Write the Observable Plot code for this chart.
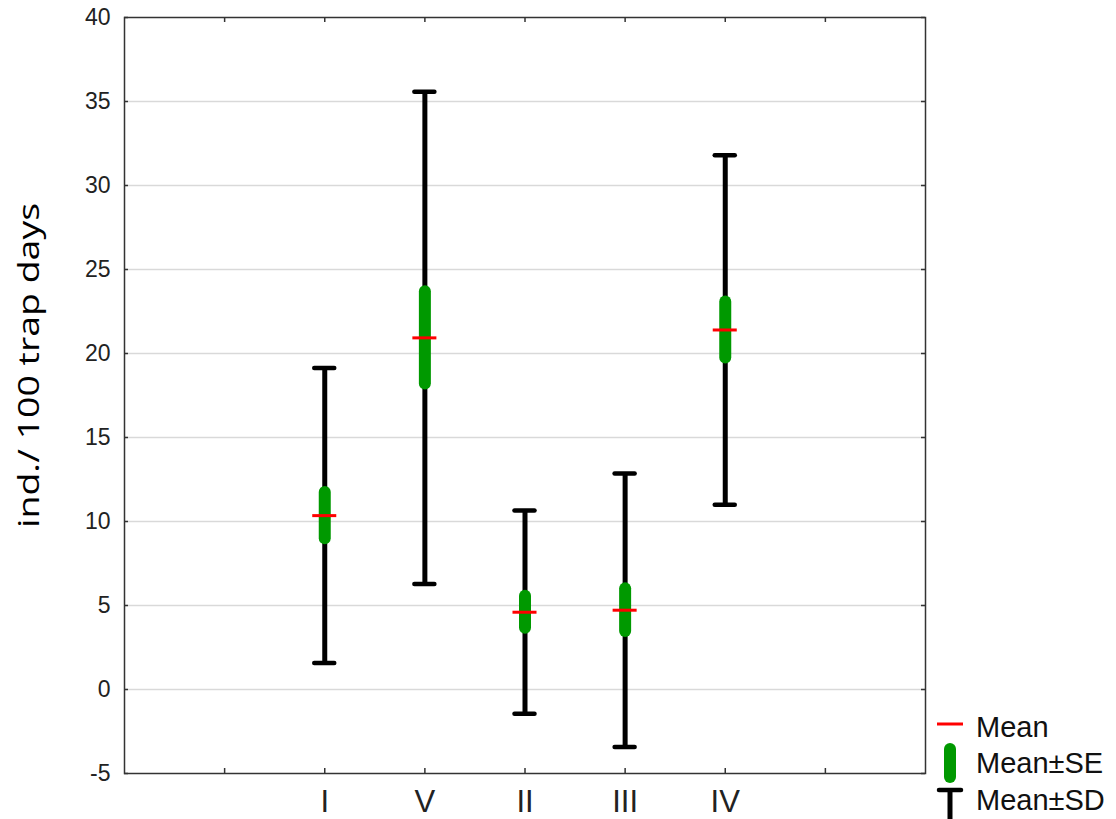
<!DOCTYPE html>
<html><head><meta charset="utf-8">
<script src="https://cdn.jsdelivr.net/npm/d3@7"></script>
<script src="https://cdn.jsdelivr.net/npm/@observablehq/plot@0.6"></script>
<style>
html,body{margin:0;padding:0;background:#fff;}
#wrap{position:relative;width:1116px;height:819px;overflow:hidden;background:#fff;}
#wrap svg{position:absolute;left:0;top:0;}
</style></head><body><div id="wrap"></div>
<script>
// ---- data ----
const groups = ["I", "V", "II", "III", "IV"];
const positions = [2, 3, 4, 5, 6];
const means = [10.35, 20.93, 4.6, 4.72, 21.4];
const se = [1.38, 2.74, 0.95, 1.27, 1.67];
const sd = [8.78, 14.65, 6.05, 8.14, 10.4];
const yTicks = [-5, 0, 5, 10, 15, 20, 25, 30, 35, 40];
const xTickPos = [1, 2, 3, 4, 5, 6, 7];
const xTickLabels = ["", "I", "V", "II", "III", "IV", ""];
const yLabel = "ind./ 100 trap days";
const legendLabels = ["Mean", "Mean±SE", "Mean±SD"];

const data = groups.map((g, i) => ({
  group: g, pos: positions[i], mean: means[i],
  seLo: means[i] - se[i], seHi: means[i] + se[i],
  sdLo: means[i] - sd[i], sdHi: means[i] + sd[i]
}));

const W = 1116, H = 819, mL = 124, mR = 191, mT = 17, mB = 46;
const innerW = W - mL - mR, innerH = H - mT - mB;
const frameCol = "#333";

const chart = Plot.plot({
  width: W, height: H,
  marginLeft: mL, marginRight: mR, marginTop: mT, marginBottom: mB,
  style: {fontFamily: "'Liberation Sans', Arial, sans-serif", background: "#fff", color: "#222"},
  x: {domain: [0, 8]},
  y: {domain: [-5, 40]},
  marks: [
    Plot.gridY(yTicks.filter(v => v > -5 && v < 40), {stroke: "#d9d9d9", strokeOpacity: 1, strokeWidth: 1.5}),
    Plot.ruleX(data, {x: "pos", y1: "sdLo", y2: "sdHi", stroke: "#000", strokeWidth: 5}),
    Plot.ruleY(data, {y: "sdHi", x1: d => d.pos - 0.1, x2: d => d.pos + 0.1, stroke: "#000", strokeWidth: 4.5, strokeLinecap: "round"}),
    Plot.ruleY(data, {y: "sdLo", x1: d => d.pos - 0.1, x2: d => d.pos + 0.1, stroke: "#000", strokeWidth: 4.5, strokeLinecap: "round"}),
    Plot.ruleX(data, {x: "pos", y1: "seLo", y2: "seHi", stroke: "#009900", strokeWidth: 12, strokeLinecap: "round"}),
    Plot.ruleY(data, {y: "mean", x1: d => d.pos - 0.12, x2: d => d.pos + 0.12, stroke: "#ff0000", strokeWidth: 3}),
    Plot.frame({stroke: frameCol, strokeWidth: 1.5}),
    Plot.ruleY(yTicks, {stroke: frameCol, strokeWidth: 1.5, insetRight: innerW - 4}),
    Plot.ruleY(yTicks, {stroke: frameCol, strokeWidth: 1.5, insetLeft: innerW - 4}),
    Plot.ruleX(xTickPos, {stroke: frameCol, strokeWidth: 1.5, insetTop: innerH - 5}),
    Plot.ruleX(xTickPos, {stroke: frameCol, strokeWidth: 1.5, insetBottom: innerH - 5}),
    Plot.axisY(yTicks, {tickSize: 0, tickPadding: 14, fontSize: 23, color: "#222", label: null,
      tickFormat: d => String(d)}),
    Plot.axisX(xTickPos, {tickSize: 0, tickPadding: 16, fontSize: 31, color: "#222", label: null,
      tickFormat: d => xTickLabels[xTickPos.indexOf(d)]})
  ]
});

const wrap = document.getElementById("wrap");
wrap.appendChild(chart);

// overlay: y-axis title and legend
const ov = d3.create("svg").attr("width", W).attr("height", H);
ov.append("text")
  .attr("transform", "translate(39,365.5) rotate(-90)")
  .attr("text-anchor", "middle")
  .attr("font-family", "'Open Sans', 'Noto Sans', sans-serif")
  .attr("font-size", 29)
  .attr("fill", "#000")
  .attr("textLength", 325)
  .attr("lengthAdjust", "spacingAndGlyphs")
  .text(yLabel);

const lg = ov.append("g");
lg.append("line").attr("x1", 937).attr("x2", 963).attr("y1", 724).attr("y2", 724)
  .attr("stroke", "#ff0000").attr("stroke-width", 3);
lg.append("line").attr("x1", 950).attr("x2", 950).attr("y1", 749).attr("y2", 777)
  .attr("stroke", "#009900").attr("stroke-width", 12).attr("stroke-linecap", "round");
lg.append("line").attr("x1", 950).attr("x2", 950).attr("y1", 790).attr("y2", 830)
  .attr("stroke", "#000").attr("stroke-width", 5);
lg.append("line").attr("x1", 939).attr("x2", 961).attr("y1", 790).attr("y2", 790)
  .attr("stroke", "#000").attr("stroke-width", 4.5).attr("stroke-linecap", "round");
const baselines = [737, 773, 810];
legendLabels.forEach((t, i) => {
  lg.append("text").attr("x", 976).attr("y", baselines[i])
    .attr("font-family", "'Liberation Sans', Arial, sans-serif")
    .attr("font-size", 29).attr("fill", "#111").text(t);
});
wrap.appendChild(ov.node());
</script>
</body></html>
